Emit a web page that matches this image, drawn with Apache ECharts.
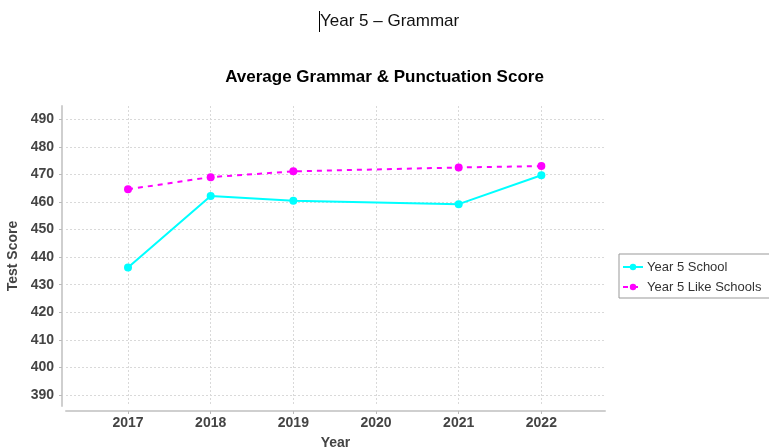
<!DOCTYPE html>
<html><head><meta charset="utf-8">
<script src="https://cdn.jsdelivr.net/npm/echarts@6/dist/echarts.min.js"></script>
<style>html,body{margin:0;padding:0;background:#fff}#c{width:769px;height:448px}</style>
</head><body><div id="c"></div>
<script>
const yearTicks = [2017, 2018, 2019, 2020, 2021, 2022];
const years = [2017, 2018, 2019, 2021, 2022];
const schoolScores = [436.2, 462.2, 460.4, 459.2, 469.7];
const likeSchoolScores = [464.6, 469.0, 471.1, 472.5, 473.0];
const scoreTicks = [390, 400, 410, 420, 430, 440, 450, 460, 470, 480, 490];
const seriesNames = ['Year 5 School', 'Year 5 Like Schools'];

const chart = echarts.init(document.getElementById('c'), null, {renderer: 'canvas'});
const labelFont = {fontFamily: 'Liberation Sans', fontWeight: 'bold', fontSize: 14, color: '#444'};
const gridLine = {show: true, lineStyle: {color: '#d9d9d9', type: [2, 2], width: 1}};

chart.setOption({
  animation: false,
  backgroundColor: '#fff',
  title: {
    text: 'Average Grammar & Punctuation Score',
    left: 'center', top: 64,
    textStyle: {fontFamily: 'Liberation Sans', fontWeight: 'bold', fontSize: 17, color: '#000'}
  },
  graphic: [
    {type: 'text', left: 320, top: 13, style: {text: 'Year 5 – Grammar', font: '17px "Liberation Sans"', fill: '#111'}},
    {type: 'line', shape: {x1: 319.5, y1: 11, x2: 319.5, y2: 32}, style: {stroke: '#000', lineWidth: 1}}
  ],
  legend: {
    orient: 'vertical', left: 619, top: 254,
    padding: [6, 16, 4, 3],
    itemWidth: 20, itemHeight: 8, itemGap: 6,
    borderColor: '#999', borderWidth: 1,
    textStyle: {fontFamily: 'Liberation Sans', fontSize: 13, color: '#333', lineHeight: 14, padding: [0, 0, 0, -1]},
    data: seriesNames
  },
  grid: {left: 66, right: 164, top: 106, bottom: 42, containLabel: false, outerBoundsMode: 'none'},
  xAxis: {
    type: 'value', min: 2016.25, max: 2022.77, offset: 5,
    name: 'Year', nameLocation: 'middle', nameGap: 25,
    nameTextStyle: labelFont,
    axisLine: {show: true, lineStyle: {color: '#cfcfcf', width: 2}},
    axisTick: {show: true, customValues: yearTicks, length: 3, lineStyle: {color: '#bbb'}},
    axisLabel: Object.assign({customValues: yearTicks, margin: 5, formatter: v => String(v)}, labelFont),
    splitLine: gridLine
  },
  yAxis: {
    type: 'value', min: 386, max: 494.8, offset: 4,
    name: 'Test Score', nameLocation: 'middle', nameGap: 37, nameRotate: 90,
    nameTextStyle: labelFont,
    axisLine: {show: true, lineStyle: {color: '#cfcfcf', width: 2}},
    axisTick: {show: true, customValues: scoreTicks, length: 3, lineStyle: {color: '#bbb'}},
    axisLabel: Object.assign({customValues: scoreTicks, margin: 8}, labelFont),
    splitLine: gridLine
  },
  series: [
    {
      name: seriesNames[0], type: 'line',
      data: years.map((y, i) => [y, schoolScores[i]]),
      symbol: 'circle', symbolSize: 8,
      itemStyle: {color: '#00ffff'},
      lineStyle: {color: '#00ffff', width: 2}
    },
    {
      name: seriesNames[1], type: 'line',
      data: years.map((y, i) => [y, likeSchoolScores[i]]),
      symbol: 'circle', symbolSize: 8,
      itemStyle: {color: '#ff00ff'},
      lineStyle: {color: '#ff00ff', width: 2, type: [5, 5]}
    }
  ]
});
</script></body></html>
